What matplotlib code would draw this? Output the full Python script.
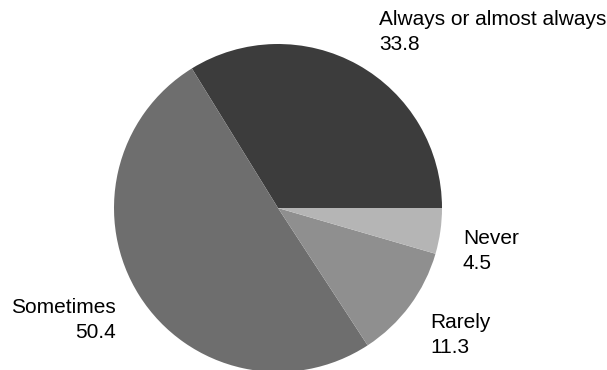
import matplotlib.pyplot as plt

plt.rcParams['font.family'] = ['Liberation Sans', 'DejaVu Sans']

# data to plot (counter-clockwise from 3 o'clock)
labels = ['Always or almost always', 'Sometimes', 'Rarely', 'Never']
values = [33.8, 50.4, 11.3, 4.5]
colors = ['#3c3c3c', '#6e6e6e', '#8f8f8f', '#b5b5b5']

W, H = 607, 370
fig = plt.figure(figsize=(W / 100, H / 100), dpi=100)

# pie centre ~ (278, 208) px, radius ~164 px
cx, cy, r = 278, 208, 164
ax = fig.add_axes([(cx - r) / W, 1 - (cy + r) / H, 2 * r / W, 2 * r / H])
ax.pie(values, colors=colors, startangle=0, counterclock=True,
       wedgeprops=dict(linewidth=0))
ax.set_xlim(-1, 1)
ax.set_ylim(-1, 1)
ax.set_aspect('equal')
ax.axis('off')

# label anchors in pixels: (x, baseline of first line, alignment)
anchors = {
    'Always or almost always': (379, 25, 'left'),
    'Sometimes': (116, 313, 'right'),
    'Rarely': (430, 328, 'left'),
    'Never': (463, 244, 'left'),
}
fs = 15
for lab, val in zip(labels, values):
    x, yb, ha = anchors[lab]
    fig.text(x / W, 1 - yb / H, lab, ha=ha, va='baseline', fontsize=fs)
    fig.text(x / W, 1 - (yb + 25) / H, f'{val}', ha=ha, va='baseline', fontsize=fs)

fig.savefig('out.png', dpi=100)
